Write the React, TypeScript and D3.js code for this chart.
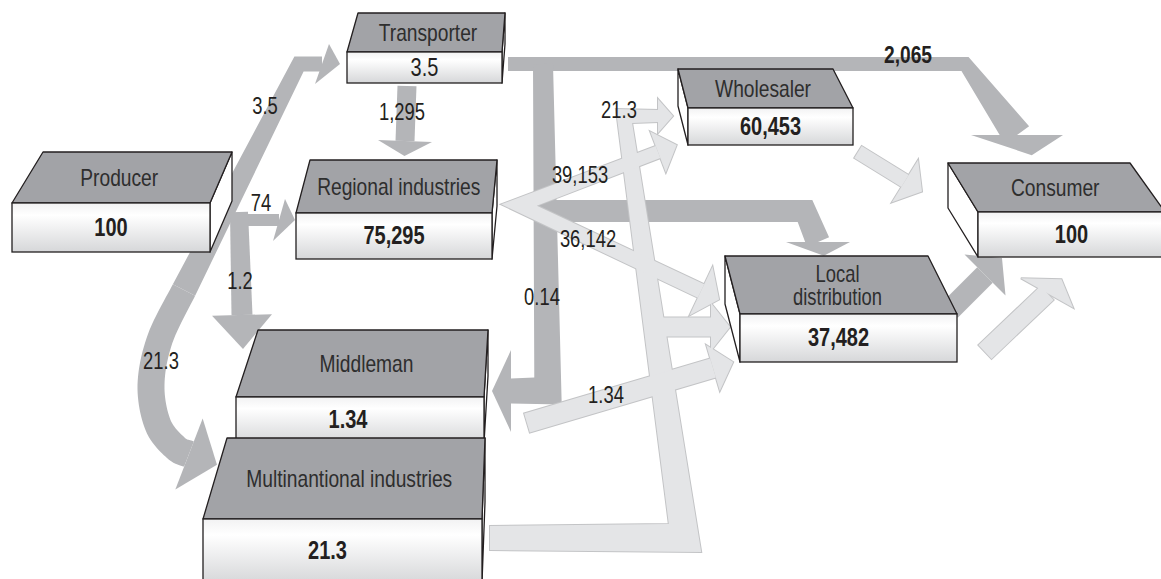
import React from 'react'
import * as d3 from 'd3'

const width = 1161
const height = 579

// actors in the chain and the amount each one handles
const nodeNames = ['Producer', 'Transporter', 'Regional industries', 'Wholesaler', 'Consumer', 'Local distribution', 'Middleman', 'Multinantional industries']
const nodeValues = ['100', '3.5', '75,295', '60,453', '100', '37,482', '1.34', '21.3']
const valueBold = [true, false, true, true, true, true, true, true]

// flows between actors
const flowSource = ['Producer', 'Producer', 'Producer', 'Producer', 'Transporter', 'Transporter', 'Transporter', 'Transporter', 'Local distribution', 'Multinantional industries', 'Multinantional industries', 'Regional industries', 'Regional industries', 'Wholesaler', 'Local distribution', 'Middleman']
const flowTarget = ['Transporter', 'Multinantional industries', 'Regional industries', 'Middleman', 'Regional industries', 'Consumer', 'Middleman', 'Local distribution', 'Consumer', 'Wholesaler', 'Local distribution', 'Wholesaler', 'Local distribution', 'Consumer', 'Consumer', 'Local distribution']
const flowLabels = ['3.5', '21.3', '74', '1.2', '1,295', '2,065', '0.14', '', '', '21.3', '', '39,153', '36,142', '', '', '1.34']

type Pt = [number, number]
type Head = { at: 'start' | 'end', hw: number, len: number, skew?: number, baseDir?: Pt }

// ---- layout (drawing geometry, kept apart from the values) ----
// front face x, y, w, h ; back edge y and its two x ends
const boxLayout = [
  { fx: 12, fy: 203, fw: 198, fh: 49, by: 152, bx1: 43, bx2: 232, ldx: -5, vdx: 0 },
  { fx: 347, fy: 52, fw: 155, fh: 31, by: 13, bx1: 358, bx2: 505, ldx: 0, vdx: 0 },
  { fx: 296, fy: 213, fw: 196, fh: 46, by: 160, bx1: 310, bx2: 497, ldx: 0, vdx: 0 },
  { fx: 688, fy: 108, fw: 165, fh: 37, by: 69, bx1: 678, bx2: 833, ldx: 0, vdx: 0 },
  { fx: 978, fy: 212, fw: 187, fh: 45, by: 163, bx1: 948, bx2: 1130, ldx: 0, vdx: 0 },
  { fx: 740, fy: 314, fw: 217, fh: 48, by: 256, bx1: 725, bx2: 928, ldx: 0, vdx: -10 },
  { fx: 236, fy: 397, fw: 248, fh: 46, by: 330, bx1: 258, bx2: 488, ldx: 0, vdx: -12 },
  { fx: 203, fy: 519, fw: 279, fh: 64, by: 438, bx1: 227, bx2: 485, ldx: 0, vdx: -15 },
]

const shapeLayout: { flows: number[], tone: 'dark' | 'light', pts: Pt[], w: number | number[], smooth?: boolean, heads: Head[] }[] = [
  { flows: [0], tone: 'dark', pts: [[322, 64], [299, 64], [184, 290]], w: [15, 15, 25], heads: [{ at: 'start', hw: 20, len: 18, skew: -7 }] },
  { flows: [1], tone: 'dark', smooth: true, pts: [[184, 290], [160, 339], [151, 385], [158, 425], [176, 448], [189, 454]], w: [25, 26, 27, 27, 27, 27], heads: [{ at: 'end', hw: 38, len: 30 }] },
  { flows: [2], tone: 'dark', pts: [[231, 220], [279, 220]], w: 12, heads: [{ at: 'end', hw: 21, len: 16, skew: -6 }] },
  { flows: [3], tone: 'dark', pts: [[239, 212], [242, 315]], w: [18, 21], heads: [{ at: 'end', hw: 30, len: 34 }] },
  { flows: [4], tone: 'dark', pts: [[407, 86], [405, 141]], w: 19, heads: [{ at: 'end', hw: 27, len: 15 }] },
  { flows: [5], tone: 'dark', pts: [[508, 64], [965, 64], [1017, 135]], w: [14, 14, 30], heads: [{ at: 'end', hw: 46, len: 25, baseDir: [1, 0] }] },
  { flows: [6], tone: 'dark', pts: [[543, 64], [548, 391], [511, 391]], w: [20, 27, 25], heads: [{ at: 'end', hw: 41, len: 19 }] },
  { flows: [7], tone: 'dark', pts: [[537, 211], [805, 211], [818, 242]], w: [22, 22, 24], heads: [{ at: 'end', hw: 32, len: 15, baseDir: [1, 0] }] },
  { flows: [8], tone: 'dark', pts: [[950, 310], [985, 275]], w: 22, heads: [{ at: 'end', hw: 29, len: 24 }] },
  { flows: [9], tone: 'light', pts: [[490, 538], [685, 538], [624, 116], [658, 116]], w: [24, 28, 14, 12], heads: [{ at: 'end', hw: 17, len: 15 }] },
  { flows: [10], tone: 'light', pts: [[654, 327], [711, 327]], w: 19, heads: [{ at: 'end', hw: 24, len: 19 }] },
  { flows: [11, 12], tone: 'light', pts: [[658, 152], [519, 205], [701, 291]], w: [13, 14, 15], heads: [{ at: 'start', hw: 22, len: 20 }, { at: 'end', hw: 27, len: 20 }] },
  { flows: [13], tone: 'light', pts: [[858, 152], [905, 181]], w: 14, heads: [{ at: 'end', hw: 25, len: 20 }] },
  { flows: [14], tone: 'light', pts: [[985, 352], [1047, 293]], w: 19, heads: [{ at: 'end', hw: 30, len: 20, baseDir: [0.87, 0.49] }] },
  { flows: [15], tone: 'light', pts: [[527, 423], [713, 368]], w: 20, heads: [{ at: 'end', hw: 24, len: 21 }] },
]

const flowLabelAt: (Pt | null)[] = [[265, 106], [161, 361], [261, 203], [240, 281], [402, 112], [908, 55], [542, 297], null, null, [619, 110], null, [580, 175], [588, 239], null, null, [606, 395]]

const fontFamily = "'Liberation Sans', Arial, sans-serif"
const narrow = 0.8
const ink = '#231f20'
const darkFill = '#b4b5b8'
const lightFill = '#e4e5e7'
const lightEdge = '#c3c4c6'
const topFill = '#a2a3a7'

// ---- geometry helpers ----
const sub = (a: Pt, b: Pt): Pt => [a[0] - b[0], a[1] - b[1]]
const add = (a: Pt, b: Pt): Pt => [a[0] + b[0], a[1] + b[1]]
const mul = (a: Pt, k: number): Pt => [a[0] * k, a[1] * k]
const unit = (a: Pt): Pt => { const l = Math.hypot(a[0], a[1]) || 1; return [a[0] / l, a[1] / l] }
const perp = (d: Pt): Pt => [-d[1], d[0]]

function catmull(ctrl: Pt[], ws: number[], steps = 12) {
  const pts: Pt[] = []
  const w: number[] = []
  for (let i = 0; i < ctrl.length - 1; i++) {
    const p0 = ctrl[i - 1] || ctrl[i], p1 = ctrl[i], p2 = ctrl[i + 1], p3 = ctrl[i + 2] || ctrl[i + 1]
    for (let s = 0; s < steps; s++) {
      const t = s / steps, t2 = t * t, t3 = t2 * t
      const f = (k: number) => 0.5 * (2 * p1[k] + (-p0[k] + p2[k]) * t + (2 * p0[k] - 5 * p1[k] + 4 * p2[k] - p3[k]) * t2 + (-p0[k] + 3 * p1[k] - 3 * p2[k] + p3[k]) * t3)
      pts.push([f(0), f(1)])
      w.push(ws[i] + (ws[i + 1] - ws[i]) * t)
    }
  }
  pts.push(ctrl[ctrl.length - 1])
  w.push(ws[ws.length - 1])
  return { pts, w }
}

function ribbon(pts: Pt[], ws: number[]): Pt[] {
  const left: Pt[] = [], right: Pt[] = []
  pts.forEach((p, i) => {
    const h = ws[i] / 2
    const dIn = i > 0 ? unit(sub(p, pts[i - 1])) : null
    const dOut = i < pts.length - 1 ? unit(sub(pts[i + 1], p)) : null
    let m: Pt
    let k = h
    if (dIn && dOut) {
      const n1 = perp(dIn), n2 = perp(dOut)
      m = unit(add(n1, n2))
      k = h / Math.max(m[0] * n1[0] + m[1] * n1[1], 0.25)
    } else {
      m = perp((dIn || dOut) as Pt)
    }
    left.push(add(p, mul(m, k)))
    right.push(sub(p, mul(m, k)))
  })
  return left.concat(right.reverse())
}

function arrowHead(base: Pt, dir: Pt, hd: Head): Pt[] {
  const bd = hd.baseDir ? unit(hd.baseDir) : perp(dir)
  const sk = mul(dir, hd.skew || 0)
  return [add(add(base, mul(bd, hd.hw)), sk), add(base, mul(dir, hd.len)), sub(sub(base, mul(bd, hd.hw)), sk)]
}

function shapePolys(a: typeof shapeLayout[number]): Pt[][] {
  const ws = typeof a.w === 'number' ? a.pts.map(() => a.w as number) : a.w
  const line = a.smooth ? catmull(a.pts, ws) : { pts: a.pts, w: ws }
  const n = line.pts.length
  const polys = [ribbon(line.pts, line.w)]
  a.heads.forEach(hd => {
    if (hd.at === 'end') polys.push(arrowHead(line.pts[n - 1], unit(sub(line.pts[n - 1], line.pts[n - 2])), hd))
    else polys.push(arrowHead(line.pts[0], unit(sub(line.pts[0], line.pts[1])), hd))
  })
  return polys
}

// condensed text: the regular face squeezed horizontally around its anchor
function Label(props: { x: number, y: number, size: number, bold?: boolean, fill?: string, children: string }) {
  return (
    <text transform={'translate(' + props.x + ',' + props.y + ') scale(' + narrow + ',1)'}
      textAnchor='middle' dominantBaseline='central' fontSize={props.size}
      fontWeight={props.bold ? 'bold' : 'normal'} fill={props.fill || ink}>
      {props.children}
    </text>
  )
}

export default function App() {
  const x = d3.scaleLinear().domain([0, 1161]).range([0, width])
  const y = d3.scaleLinear().domain([0, 579]).range([0, height])
  const poly = d3.line<Pt>().x(d => x(d[0])).y(d => y(d[1])).curve(d3.curveLinearClosed)

  const darkPolys = shapeLayout.filter(s => s.tone === 'dark').flatMap(shapePolys)
  const lightPolys = shapeLayout.filter(s => s.tone === 'light').flatMap(shapePolys)

  const boxes = nodeNames.map((name, i) => {
    const b = boxLayout[i]
    const fr = b.fx + b.fw
    const top: Pt[] = [[b.bx1, b.by], [b.bx2, b.by], [fr, b.fy], [b.fx, b.fy]]
    let side: Pt[] | null = null
    if (b.bx2 > fr + 1) side = [[fr, b.fy], [b.bx2, b.by], [b.bx2, b.by + b.fh], [fr, b.fy + b.fh]]
    if (b.bx1 < b.fx - 1) side = [[b.fx, b.fy], [b.bx1, b.by], [b.bx1, b.by + b.fh], [b.fx, b.fy + b.fh]]
    const lx = (b.bx1 + b.bx2 + b.fx + fr) / 4 + b.ldx
    const ly = (b.by + b.fy) / 2
    const lines = name === 'Local distribution' ? name.split(' ') : [name]
    return (
      <g key={name}>
        {side && <path d={poly(side) || ''} fill='#fff' stroke={ink} strokeWidth={1.3} strokeLinejoin='round' />}
        <path d={poly(top) || ''} fill={topFill} stroke={ink} strokeWidth={1.3} strokeLinejoin='round' />
        <rect x={x(b.fx)} y={y(b.fy)} width={x(b.fw) - x(0)} height={y(b.fh) - y(0)} fill='url(#frontFace)' stroke={ink} strokeWidth={1.3} />
        {lines.map((t, k) => (
          <Label key={t} x={x(lx)} y={y(ly + (k - (lines.length - 1) / 2) * 23)} size={lines.length > 1 ? 23 : 24} fill='#2e2e2e'>{t}</Label>
        ))}
        <Label x={x(b.fx + b.fw / 2 + b.vdx)} y={y(b.fy + b.fh / 2)} size={25} bold={valueBold[i]}>{nodeValues[i]}</Label>
      </g>
    )
  })

  return (
    <svg width={width} height={height} style={{ position: 'absolute', left: 0, top: 0, background: '#fff', fontFamily }}>
      <defs>
        <linearGradient id='frontFace' x1='0' y1='0' x2='0' y2='1'>
          <stop offset='0%' stopColor='#f2f2f3' />
          <stop offset='25%' stopColor='#ffffff' />
          <stop offset='100%' stopColor='#d6d7d9' />
        </linearGradient>
      </defs>

      <g>
        {darkPolys.map((p, i) => <path key={i} d={poly(p) || ''} fill={darkFill} />)}
      </g>
      <g>
        {lightPolys.map((p, i) => <path key={i} d={poly(p) || ''} fill={lightFill} stroke={lightEdge} strokeWidth={2} strokeLinejoin='miter' />)}
      </g>
      <g>
        {lightPolys.map((p, i) => <path key={i} d={poly(p) || ''} fill={lightFill} />)}
      </g>

      {boxes}

      <g>
        {flowLabels.map((t, i) => {
          const at = flowLabelAt[i]
          if (!t || !at) return null
          const strong = flowSource[i] === 'Transporter' && flowTarget[i] === 'Consumer'
          return <Label key={i} x={x(at[0])} y={y(at[1])} size={strong ? 24 : 23} bold={strong}>{t}</Label>
        })}
      </g>
    </svg>
  )
}
